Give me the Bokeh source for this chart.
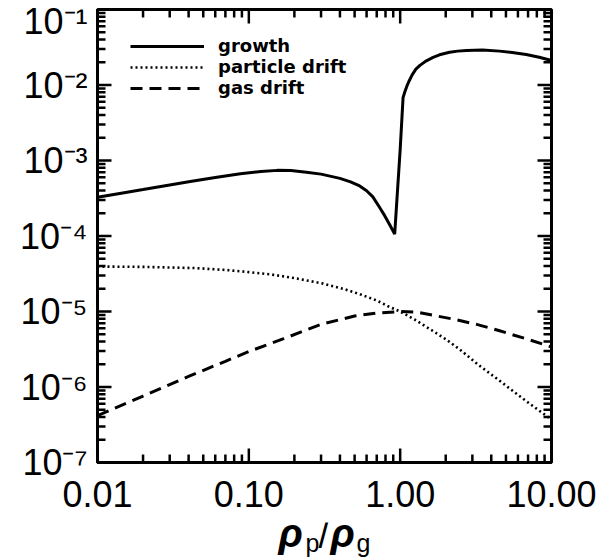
from bokeh.plotting import figure
from bokeh.layouts import column
from bokeh.models import Range1d, FixedTicker, Label
from bokeh.embed import file_html
from bokeh.resources import INLINE

# ---------------- data ----------------
growth_x = [0.01, 0.015, 0.02, 0.03, 0.041, 0.06, 0.088, 0.12, 0.154, 0.19, 0.24, 0.3,
            0.4, 0.47, 0.54, 0.6, 0.66, 0.73, 0.79, 0.853, 0.92,
            0.957, 1.0, 1.045, 1.07, 1.11, 1.15, 1.2, 1.27, 1.35, 1.49, 1.65, 1.82,
            2.12, 2.4, 2.74, 3.5, 4.54, 5.5, 6.8, 8.3, 10.0]
growth_y = [3.27e-4, 3.75e-4, 4.13e-4, 4.75e-4, 5.27e-4, 5.95e-4, 6.67e-4, 7.15e-4,
            7.4e-4, 7.35e-4, 7.0e-4, 6.6e-4, 5.8e-4, 5.2e-4, 4.6e-4, 3.98e-4, 3.3e-4,
            2.4e-4, 1.86e-4, 1.41e-4, 1.06e-4,
            3.59e-4, 1.39e-3, 6.8e-3, 7.94e-3, 9.77e-3, 1.148e-2, 1.365e-2, 1.62e-2,
            1.82e-2, 2.09e-2, 2.32e-2, 2.51e-2, 2.72e-2, 2.81e-2, 2.86e-2, 2.9e-2,
            2.81e-2, 2.69e-2, 2.54e-2, 2.33e-2, 2.11e-2]

pdrift_x = [0.01, 0.02, 0.044, 0.07, 0.095, 0.14, 0.2, 0.31, 0.42, 0.54, 0.7, 0.85, 1.0,
            1.25, 1.57, 2.0, 2.47, 3.3, 4.54, 6.8, 10.0]
pdrift_y = [3.94e-5, 3.9e-5, 3.76e-5, 3.55e-5, 3.36e-5, 3.1e-5, 2.77e-5, 2.34e-5, 2.0e-5,
            1.7e-5, 1.4e-5, 1.15e-5, 1.0e-5, 7.8e-6, 5.85e-6, 4.3e-6, 3.16e-6, 1.95e-6,
            1.21e-6, 6.5e-7, 3.7e-7]

gdrift_x = [0.01, 0.02, 0.04, 0.07, 0.1, 0.17, 0.3, 0.5, 0.7, 1.0, 1.3, 2.23, 3.2,
            4.54, 7.0, 10.0]
gdrift_y = [4.17e-7, 7.59e-7, 1.38e-6, 2.19e-6, 2.95e-6, 4.37e-6, 6.76e-6, 8.71e-6,
            9.55e-6, 1.0e-5, 9.77e-6, 7.94e-6, 6.76e-6, 5.55e-6, 4.27e-6, 3.39e-6]

x_ticks = [0.01, 0.1, 1.0, 10.0]
x_tick_labels = ["0.01", "0.10", "1.00", "10.00"]
y_ticks = [1e-7, 1e-6, 1e-5, 1e-4, 1e-3, 1e-2, 1e-1]
y_tick_labels = ["10\u207b\u2077", "10\u207b\u2076", "10\u207b\u2075", "10\u207b\u2074",
                 "10\u207b\u00b3", "10\u207b\u00b2", "10\u207b\u00b9"]
series_names = ["growth", "particle drift", "gas drift"]
x_title_parts = ["\u03c1", "p", "/", "\u03c1", "g"]

FONT = "Liberation Sans"
NAN = float("nan")
X0, X1 = x_ticks[0], x_ticks[-1]
Y0, Y1 = y_ticks[0], y_ticks[-1]

x_minor = [m * t for t in x_ticks[:-1] for m in range(2, 10)]
y_minor = [m * t for t in y_ticks[:-1] for m in range(2, 10)]

W, H = 600, 522
BL, BR, BT, BB = 97, 49, 9, 60
p = figure(width=W, height=H, x_axis_type="log", y_axis_type="log",
           x_range=Range1d(X0, X1), y_range=Range1d(Y0, Y1),
           output_backend="svg", toolbar_location=None,
           min_border_left=BL, min_border_right=BR, min_border_top=BT, min_border_bottom=BB)
p.background_fill_color = "white"
p.border_fill_color = "white"
p.outline_line_color = "black"
p.outline_line_width = 3
p.xgrid.grid_line_color = None
p.ygrid.grid_line_color = None

p.line(growth_x, growth_y, line_color="black", line_width=3, legend_label=series_names[0])
p.line(pdrift_x, pdrift_y, line_color="black", line_width=2.6, line_dash="2 3",
       legend_label=series_names[1])
p.line(gdrift_x, gdrift_y, line_color="black", line_width=3, line_dash="12 7",
       legend_label=series_names[2])

# inward tick marks on all four sides: short NaN-separated paths of fixed pixel length
ppd_x = (W - BL - BR) / 3.0      # pixels per decade
ppd_y = (H - BT - BB) / 6.0
MAJ, MIN = 14, 8


def tick_path(positions, edge, factor, vertical):
    xs, ys = [], []
    for v in positions:
        if vertical:
            xs += [v, v, NAN]
            ys += [edge, edge * factor, NAN]
        else:
            xs += [edge, edge * factor, NAN]
            ys += [v, v, NAN]
    return xs, ys


TK = dict(line_color="black", line_width=2.5)
for xs_t, L in ((x_ticks, MAJ), (x_minor, MIN)):
    f = 10 ** (L / ppd_y)
    for edge, fac in ((Y0, f), (Y1, 1.0 / f)):
        xs, ys = tick_path(xs_t, edge, fac, True)
        p.line(xs, ys, **TK)
for ys_t, L in ((y_ticks, MAJ), (y_minor, MIN)):
    f = 10 ** (L / ppd_x)
    for edge, fac in ((X0, f), (X1, 1.0 / f)):
        xs, ys = tick_path(ys_t, edge, fac, False)
        p.line(xs, ys, **TK)


def style_axis(ax, ticks, labels):
    ax.ticker = FixedTicker(ticks=ticks)
    ax.major_label_overrides = dict(zip(ticks, labels))
    ax.axis_line_width = 3
    ax.axis_line_color = "black"
    ax.major_tick_in = 0
    ax.major_tick_out = 0
    ax.minor_tick_in = 0
    ax.minor_tick_out = 0
    ax.major_label_text_font = FONT
    ax.major_label_text_font_size = "36px"
    ax.major_label_text_color = "black"


style_axis(p.xaxis[0], x_ticks, x_tick_labels)
style_axis(p.yaxis[0], y_ticks, y_tick_labels)
p.xaxis[0].major_label_standoff = 18
p.yaxis[0].major_label_standoff = 10

# legend
lg = p.legend[0]
lg.location = (33, 364)
lg.border_line_color = None
lg.background_fill_alpha = 0
lg.padding = 0
lg.margin = 0
lg.spacing = 0
lg.glyph_width = 74
lg.glyph_height = 18
lg.label_height = 18
lg.label_standoff = 14
lg.label_text_font = "DejaVu Sans"
lg.label_text_font_size = "18px"
lg.label_text_font_style = "bold"
lg.label_text_color = "black"

# x-axis title row: rho_p / rho_g (its frame is aligned with the main frame: x 97..551)
TH = 559 - H
t = figure(width=600, height=TH, x_range=Range1d(BL, W - BR), y_range=Range1d(0, TH),
           output_backend="svg", toolbar_location=None, min_border=0,
           x_axis_location=None, y_axis_location=None)
t.grid.visible = False
t.outline_line_color = None
t.background_fill_color = "white"
t.border_fill_color = "white"
part_style = [(278, 27, "40px", "bold italic"),
              (305, 17, "25px", "normal"),
              (318, 24, "36px", "normal"),
              (330, 27, "40px", "bold italic"),
              (356, 17, "25px", "normal")]
for txt, (sx, sy, fs, st) in zip(x_title_parts, part_style):
    t.add_layout(Label(x=sx, y=sy, text=txt, text_font=FONT, text_font_size=fs,
                       text_font_style=st, text_baseline="middle", text_align="left",
                       text_color="black"))

layout = column(p, t, spacing=0)
open("out.html", "w").write(file_html(layout, INLINE))
